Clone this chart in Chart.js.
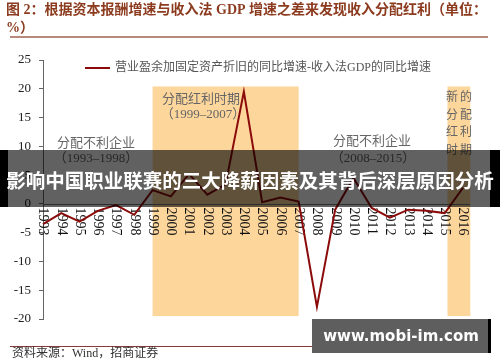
<!DOCTYPE html>
<html>
<head>
<meta charset="utf-8">
<script src="https://cdn.jsdelivr.net/npm/chart.js@4.4.1/dist/chart.umd.min.js"></script>
<style>
  html, body { margin: 0; padding: 0; background: #fff; }
  #wrap { width: 500px; height: 362px; position: relative; }
</style>
</head>
<body>
<div id="wrap"><canvas id="spreadchart" width="500" height="362"></canvas></div>
<script>
// data
const years = ["1993", "1994", "1995", "1996", "1997", "1998", "1999", "2000",
  "2001", "2002", "2003", "2004", "2005", "2006", "2007", "2008",
  "2009", "2010", "2011", "2012", "2013", "2014", "2015", "2016"];
const spread = [-3.5, -1.6, -3.1, -1.2, -0.2, -1.9, 2.4, 1.3,
  5.2, 1.6, 3.4, 19.5, 0.3, 1.1, 0.4, -17.9,
  -1.0, 4.5, -0.7, -2.4, -1.0, -1.2, -1.6, 2.8];
const seriesLabel = "营业盈余加固定资产折旧的同比增速-收入法GDP的同比增速";
const dividendPeriods = [[1999, 2007], [2015.15, 2016.4]];
const shadeRange = [-19.5, 20.4];
const titleLines = ["图 2：根据资本报酬增速与收入法 GDP 增速之差来发现收入分配红利（单位：", "%）"];
const sourceText = "资料来源：Wind，招商证券";
const bannerText = "影响中国职业联赛的三大降薪因素及其背后深层原因分析";
const siteText = "www.mobi-im.com";

const CJK = '"Liberation Serif", "Noto Sans CJK SC"';

function fitFont(ctx, text, weight, family, width, start) {
  let size = start;
  ctx.font = `${weight} ${size}px ${family}`;
  while (ctx.measureText(text).width > width && size > 6) {
    size -= 0.5;
    ctx.font = `${weight} ${size}px ${family}`;
  }
}

const decor = {
  id: "decor",
  beforeDatasetsDraw(chart) {
    const { ctx, scales: { x, y } } = chart;
    const first = Number(years[0]);
    ctx.save();
    // shaded periods
    ctx.fillStyle = "#fdd69c";
    const top = y.getPixelForValue(shadeRange[1]);
    const bot = y.getPixelForValue(shadeRange[0]);
    dividendPeriods.forEach(([a, b]) => {
      const x0 = x.getPixelForValue(a - first);
      const x1 = x.getPixelForValue(b - first);
      ctx.fillRect(x0, top, x1 - x0, bot - top);
    });
    // zero axis
    const y0 = Math.round(y.getPixelForValue(0)) + 0.5;
    ctx.strokeStyle = "#777";
    ctx.lineWidth = 1;
    ctx.beginPath();
    ctx.moveTo(x.left, y0);
    ctx.lineTo(x.right + 7, y0);
    ctx.stroke();
    // year labels, turned clockwise
    ctx.fillStyle = "#111";
    ctx.font = '14px "Liberation Serif"';
    ctx.textAlign = "left";
    ctx.textBaseline = "middle";
    years.forEach((yr, i) => {
      ctx.save();
      ctx.translate(x.getPixelForValue(i), y0 + 3);
      ctx.rotate(Math.PI / 2);
      ctx.fillText(yr, 0, 0);
      ctx.restore();
    });
    ctx.restore();
  },
  afterDatasetsDraw(chart) {
    const { ctx } = chart;
    ctx.save();
    // legend
    ctx.strokeStyle = chart.data.datasets[0].borderColor;
    ctx.lineWidth = 2;
    ctx.beginPath();
    ctx.moveTo(85, 68);
    ctx.lineTo(110, 68);
    ctx.stroke();
    ctx.fillStyle = "#555";
    ctx.font = "12px " + CJK;
    ctx.textAlign = "left";
    ctx.textBaseline = "middle";
    ctx.fillText(chart.data.datasets[0].label, 115, 68);
    // period notes
    ctx.fillStyle = "#666";
    ctx.textAlign = "center";
    ctx.font = "13px " + CJK;
    ctx.fillText("分配不利企业", 96, 144);
    ctx.fillText("（1993–1998）", 96, 159);
    ctx.fillText("分配红利时期", 201, 100);
    ctx.fillText("（1999–2007）", 203, 115);
    ctx.fillText("分配不利企业", 372, 142);
    ctx.fillText("（2008–2015）", 373, 159);
    ctx.font = "12px " + CJK;
    const vert = "新的分配红利时期";
    for (let i = 0; i < vert.length; i++) {
      const col = i % 2, row = Math.floor(i / 2);
      ctx.fillText(vert[i], 452 + col * 14, 98 + row * 17.5);
    }
    ctx.restore();
  },
  afterDraw(chart) {
    const { ctx } = chart;
    ctx.save();
    // title
    ctx.fillStyle = "#8c3b1f";
    ctx.font = "bold 14px " + CJK;
    ctx.textAlign = "left";
    ctx.textBaseline = "middle";
    ctx.fillText(titleLines[0], 6, 10);
    ctx.fillText(titleLines[1], 6, 28);
    ctx.strokeStyle = "#b88a7c";
    ctx.lineWidth = 2;
    ctx.beginPath();
    ctx.moveTo(10, 37);
    ctx.lineTo(488, 37);
    ctx.stroke();
    // source
    ctx.strokeStyle = "#8b3a3a";
    ctx.lineWidth = 1;
    ctx.beginPath();
    ctx.moveTo(10, 346.5);
    ctx.lineTo(488, 346.5);
    ctx.stroke();
    ctx.fillStyle = "#333";
    ctx.font = "12px " + CJK;
    ctx.fillText(sourceText, 12, 354);
    // overlay banner
    ctx.fillStyle = "rgba(0,0,0,0.62)";
    ctx.fillRect(8, 150, 482, 57);
    ctx.fillStyle = "#000";
    ctx.fillRect(0, 150, 8, 57);
    ctx.fillRect(490, 150, 10, 57);
    ctx.fillStyle = "#fff";
    ctx.textAlign = "center";
    fitFont(ctx, bannerText, "bold", '"Noto Sans CJK SC"', 497, 22);
    ctx.fillText(bannerText, 250, 181);
    // site mark
    ctx.fillStyle = "#5e5e5e";
    ctx.fillRect(312, 319, 176, 34);
    ctx.fillStyle = "#000";
    ctx.fillRect(488, 319, 3, 34);
    ctx.fillStyle = "#fff";
    fitFont(ctx, siteText, "bold", '"DejaVu Sans"', 158, 20);
    ctx.fillText(siteText, 401, 337);
    ctx.restore();
  }
};

const the_chart = new Chart(document.getElementById("spreadchart"), {
  type: "line",
  data: {
    labels: years,
    datasets: [{
      label: seriesLabel,
      data: spread,
      borderColor: "#8b0a0a",
      borderWidth: 2,
      pointRadius: 0,
      tension: 0,
      fill: false,
    }],
  },
  options: {
    responsive: false,
    animation: false,
    devicePixelRatio: 1,
    layout: { padding: { top: 60, bottom: 43, right: 37, left: 0 } },
    plugins: { legend: { display: false }, title: { display: false }, tooltip: { enabled: false } },
    scales: {
      x: { type: "category", display: false, offset: false },
      y: {
        min: -20,
        max: 25,
        ticks: { stepSize: 5, color: "#222", padding: 8, font: { family: "Liberation Serif", size: 13 } },
        grid: { display: true, drawOnChartArea: false, drawTicks: true, tickLength: 4, color: "#666" },
        border: { display: true, color: "#666" },
        afterFit(scale) { scale.width = 43; },
      },
    },
  },
  plugins: [decor],
});
</script>
</body>
</html>
